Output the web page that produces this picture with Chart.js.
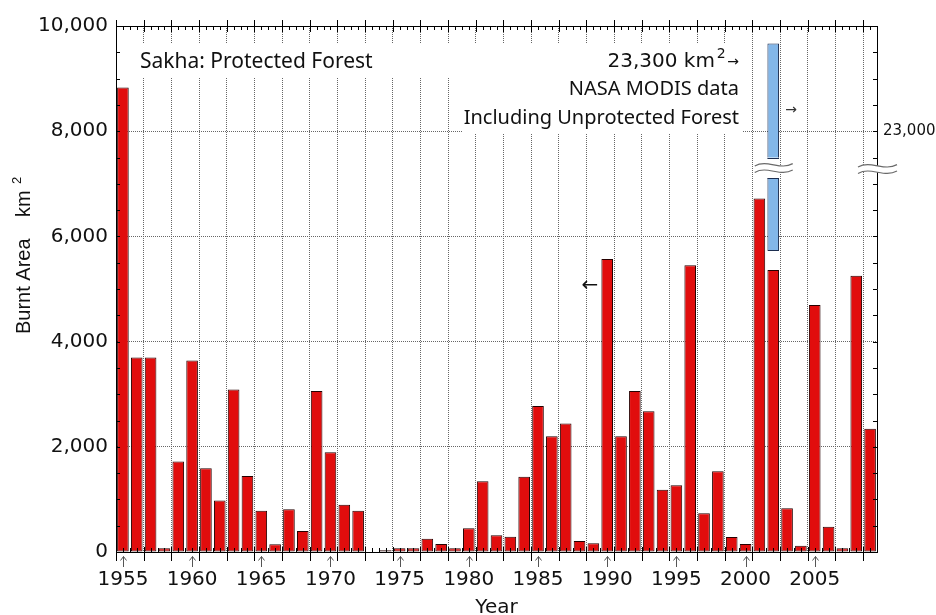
<!DOCTYPE html>
<html>
<head>
<meta charset="utf-8">
<title>Sakha: Protected Forest — Burnt Area</title>
<script src="https://cdn.jsdelivr.net/npm/chart.js@4.4.1/dist/chart.umd.min.js"></script>
<style>
  html, body { margin: 0; padding: 0; background: #fff; }
  #wrap { width: 936px; height: 615px; position: relative; }
</style>
</head>
<body>
<div id="wrap"><canvas id="chart"></canvas></div>
<script>
// Burnt area in the protected forest of Sakha, km² per year
const years = [
  1955, 1956, 1957, 1958, 1959, 1960, 1961, 1962, 1963, 1964,
  1965, 1966, 1967, 1968, 1969, 1970, 1971, 1972, 1973, 1974,
  1975, 1976, 1977, 1978, 1979, 1980, 1981, 1982, 1983, 1984,
  1985, 1986, 1987, 1988, 1989, 1990, 1991, 1992, 1993, 1994,
  1995, 1996, 1997, 1998, 1999, 2000, 2001, 2002, 2003, 2004,
  2005, 2006, 2007, 2008, 2009
];
const burntArea = [
  8830, 3700, 3700,   70, 1720, 3640, 1590,  980, 3090, 1445,
   785,  145,  815,  400, 3060, 1895,  900,  785,    0,   35,
    70,   70,  250,  150,   70,  450, 1345,  320,  290, 1430,
  2775, 2200, 2445,  210,  165, 5570, 2200, 3060, 2675, 1185,
  1270, 5450,  735, 1535,  285,  150, 6720, 5360,  830,  120,
  4695,  480,   70, 5250, 2345
];
// Years labelled (with a pointer) under the axis
const yearLabels = [1955, 1960, 1965, 1970, 1975, 1980, 1985, 1990, 1995, 2000, 2005];

// Left axis (protected forest)
const leftAxisRange = [0, 10000];
const leftAxisStep = 2000;
const minorStep = 500;

// NASA MODIS total for 2002, read on the broken right-hand axis
const modisYear = 2002;
const modisArea = 23300;
const modisBarBase = 22590;
const breakAxisRange = [21560, 23360];
const breakAxisLabels = [23000];
const breakLevel = 7300; // where the bar and right axis are cut (left-axis units)

const NUM_FONT = '"DejaVu Sans", sans-serif';
const TEXT_FONT = '"Noto Sans", "DejaVu Sans", sans-serif';
const INK = '#111';
const GRID = '#666';

const modisSeries = years.map(y => (y === modisYear ? [modisBarBase, modisArea] : null));

// tilde-shaped stroke used for the axis-break marks
function tildePath(ctx, x0, x1, y, reverse) {
  const w = x1 - x0;
  if (!reverse) {
    ctx.moveTo(x0, y + 1.2);
    ctx.bezierCurveTo(x0 + w * 0.33, y - 6, x0 + w * 0.67, y + 6, x1, y - 1.2);
  } else {
    ctx.lineTo(x1, y - 1.2);
    ctx.bezierCurveTo(x0 + w * 0.67, y + 6, x0 + w * 0.33, y - 6, x0, y + 1.2);
  }
}
function breakMark(ctx, cx, cy, half) {
  const x0 = cx - half, x1 = cx + half, g = 3.2;
  ctx.save();
  ctx.beginPath();
  tildePath(ctx, x0, x1, cy - g, false);
  tildePath(ctx, x0, x1, cy + g, true);
  ctx.closePath();
  ctx.fillStyle = '#fff';
  ctx.fill();
  ctx.beginPath();
  tildePath(ctx, x0, x1, cy - g, false);
  tildePath(ctx, x0, x1, cy + g, false);
  ctx.strokeStyle = '#6a6a6a';
  ctx.lineWidth = 1.2;
  ctx.stroke();
  ctx.restore();
}

const decorations = {
  id: 'decorations',
  beforeDatasetsDraw(chart) {
    // plain panels behind the annotation text
    const ctx = chart.ctx;
    ctx.save();
    ctx.fillStyle = '#fff';
    ctx.fillRect(129, 44, 333, 33);
    ctx.fillRect(462, 44, 280, 89);
    ctx.restore();
  },
  afterDatasetsDraw(chart) {
    const ctx = chart.ctx;
    const xs = chart.scales.x, ys = chart.scales.y;
    const { left, right, top, bottom } = chart.chartArea;

    // frame top line and tick marks (half-year minor, two-year major)
    ctx.save();
    ctx.strokeStyle = '#000';
    ctx.lineWidth = 1;
    ctx.beginPath();
    ctx.moveTo(left, Math.round(top) + 0.5);
    ctx.lineTo(right, Math.round(top) + 0.5);
    for (let k = 0; k <= years.length * 2; k++) {
      const px = Math.round(xs.getPixelForValue(-0.5 + k / 2)) + 0.5;
      if (k % 4 === 0) {
        ctx.moveTo(px, top - 6); ctx.lineTo(px, top + 6);
        ctx.moveTo(px, bottom - 5); ctx.lineTo(px, bottom + 9);
      } else {
        ctx.moveTo(px, top); ctx.lineTo(px, top + 4);
        ctx.moveTo(px, bottom); ctx.lineTo(px, bottom - 4);
      }
    }
    for (let v = leftAxisRange[0]; v <= leftAxisRange[1]; v += minorStep) {
      const py = Math.round(ys.getPixelForValue(v)) + 0.5;
      ctx.moveTo(left, py); ctx.lineTo(left + 4, py);
      ctx.moveTo(right - 4, py); ctx.lineTo(right, py);
    }
    ctx.stroke();

    // pointers under the labelled years
    ctx.strokeStyle = '#555';
    ctx.beginPath();
    yearLabels.forEach(yr => {
      const px = Math.round(xs.getPixelForValue(years.indexOf(yr))) + 0.5;
      ctx.moveTo(px, bottom + 15); ctx.lineTo(px, bottom + 4.5);
      ctx.moveTo(px - 3, bottom + 8.5); ctx.lineTo(px, bottom + 4.5); ctx.lineTo(px + 3, bottom + 8.5);
    });
    ctx.stroke();
    ctx.restore();

    // cut through the MODIS bar and the right axis
    const bar = chart.getDatasetMeta(1).data[years.indexOf(modisYear)];
    const yb = ys.getPixelForValue(breakLevel);
    if (bar) {
      const bx0 = bar.x - bar.width / 2, bx1 = bar.x + bar.width / 2;
      ctx.save();
      ctx.fillStyle = '#fff';
      ctx.fillRect(bx0 - 1, yb - 10.5, bx1 - bx0 + 2, 21);
      ctx.strokeStyle = '#1d2e50';
      ctx.lineWidth = 1;
      ctx.beginPath();
      ctx.moveTo(bx0, Math.round(yb - 10.5) + 0.5); ctx.lineTo(bx1, Math.round(yb - 10.5) + 0.5);
      ctx.moveTo(bx0, Math.round(yb + 10.5) - 0.5); ctx.lineTo(bx1, Math.round(yb + 10.5) - 0.5);
      ctx.stroke();
      ctx.restore();
      breakMark(ctx, bar.x + 0.5, yb, 19);
    }
    breakMark(ctx, right + 0.5, yb + 1, 19.5);

    // annotation text
    ctx.save();
    ctx.fillStyle = INK;
    ctx.textBaseline = 'alphabetic';
    ctx.textAlign = 'left';
    ctx.font = `21px ${TEXT_FONT}`;
    ctx.fillText('Sakha: Protected Forest', 140, 68);

    ctx.textAlign = 'right';
    ctx.font = `20px ${TEXT_FONT}`;
    ctx.fillText('NASA MODIS data', 739, 95);
    ctx.fillText('Including Unprotected Forest', 739, 124);

    let xr = 739;
    ctx.font = `14px ${NUM_FONT}`;
    ctx.fillText('→', xr, 66);
    xr -= ctx.measureText('→').width + 1.5;
    ctx.font = `14px ${NUM_FONT}`;
    ctx.fillText('2', xr, 58);
    xr -= ctx.measureText('2').width + 2;
    ctx.font = `20px ${NUM_FONT}`;
    ctx.fillText(modisArea.toLocaleString('en-US') + ' km', xr, 67);

    ctx.textAlign = 'center';
    ctx.textBaseline = 'middle';
    ctx.fillStyle = '#333';
    ctx.font = `14px ${NUM_FONT}`;
    ctx.fillText('→', 791, 110);
    ctx.fillStyle = INK;
    ctx.font = `20px ${NUM_FONT}`;
    ctx.fillText('←', 590, 286);
    ctx.restore();
  },
  afterDraw(chart) {
    // vertical axis title with superscript unit
    const ctx = chart.ctx;
    ctx.save();
    ctx.translate(30, 0);
    ctx.rotate(-Math.PI / 2);
    ctx.fillStyle = INK;
    ctx.textAlign = 'left';
    ctx.textBaseline = 'alphabetic';
    ctx.font = '20px "Liberation Sans", Arial, sans-serif';
    ctx.fillText('Burnt Area', -334, 0);
    ctx.fillText('km', -217, 0);
    ctx.font = '13px "Liberation Sans", Arial, sans-serif';
    ctx.fillText('2', -184, -9);
    ctx.restore();
  }
};

new Chart(document.getElementById('chart'), {
  type: 'bar',
  data: {
    labels: years.map(String),
    datasets: [
      {
        label: 'Protected forest',
        data: burntArea,
        yAxisID: 'y',
        backgroundColor: '#e10d0d',
        borderColor: '#260000',
        borderWidth: 1,
        borderSkipped: false,
        grouped: false,
        barPercentage: 0.84,
        categoryPercentage: 1
      },
      {
        label: 'NASA MODIS (incl. unprotected forest)',
        data: modisSeries,
        yAxisID: 'y2',
        backgroundColor: '#83b7e9',
        borderColor: '#1d2e50',
        borderWidth: 1,
        borderSkipped: false,
        grouped: false,
        barPercentage: 0.84,
        categoryPercentage: 1
      }
    ]
  },
  options: {
    responsive: true,
    maintainAspectRatio: false,
    animation: false,
    devicePixelRatio: 1,
    layout: { padding: { top: 26, left: 0, right: 0, bottom: 0 } },
    plugins: { legend: { display: false }, tooltip: { enabled: false } },
    scales: {
      x: {
        type: 'category',
        offset: true,
        afterFit(s) { s.height = 63; },
        grid: {
          offset: true,
          drawTicks: false,
          lineWidth: 1,
          color: c => (c.index > 0 && c.index % 2 === 0) ? GRID : 'rgba(0,0,0,0)'
        },
        border: { display: true, color: '#000', width: 1, dash: [1, 1] },
        ticks: {
          autoSkip: false,
          maxRotation: 0,
          minRotation: 0,
          padding: 16,
          color: INK,
          font: { family: NUM_FONT, size: 20 },
          callback: (v, i) => yearLabels.includes(years[i]) ? String(years[i]) : ''
        },
        title: {
          display: true,
          text: 'Year',
          color: INK,
          font: { family: NUM_FONT, size: 20, lineHeight: 1 },
          padding: { top: 0, bottom: -3 }
        }
      },
      y: {
        position: 'left',
        min: leftAxisRange[0],
        max: leftAxisRange[1],
        afterFit(s) { s.width = 116; },
        grid: {
          drawTicks: false,
          lineWidth: 1,
          color: c => (c.tick && c.tick.value > leftAxisRange[0] && c.tick.value < leftAxisRange[1]) ? GRID : 'rgba(0,0,0,0)'
        },
        border: { display: true, color: '#000', width: 1, dash: [1, 1] },
        ticks: {
          stepSize: leftAxisStep,
          padding: 8,
          color: INK,
          font: { family: NUM_FONT, size: 20 },
          callback: v => Number(v).toLocaleString('en-US')
        }
      },
      y2: {
        position: 'right',
        min: breakAxisRange[0],
        max: breakAxisRange[1],
        afterFit(s) { s.width = 59; },
        afterBuildTicks(s) { s.ticks = breakAxisLabels.map(v => ({ value: v })); },
        grid: { display: false, drawTicks: false },
        border: { display: true, color: '#000', width: 1 },
        ticks: {
          autoSkip: false,
          padding: 6,
          color: INK,
          font: { family: NUM_FONT, size: 15 },
          callback: v => Number(v).toLocaleString('en-US')
        }
      }
    }
  },
  plugins: [decorations]
});
</script>
</body>
</html>
